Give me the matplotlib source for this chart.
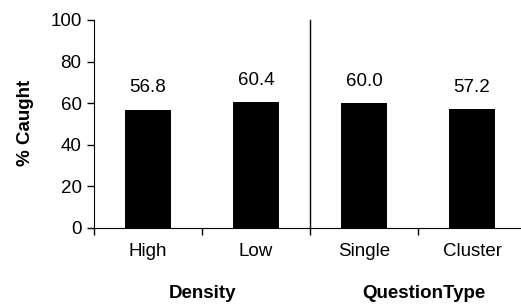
import matplotlib.pyplot as plt
import numpy as np

plt.rcParams['font.family'] = ['Liberation Sans', 'DejaVu Sans']

categories = ['High', 'Low', 'Single', 'Cluster']
values = [56.8, 60.4, 60.0, 57.2]
groups = ['Density', 'QuestionType']
yticks = [0, 20, 40, 60, 80, 100]

fig = plt.figure(figsize=(5.21, 3.07), dpi=100)
ax = fig.add_axes([94/521, 79/307, 432/521, 208/307])

x = np.arange(len(categories))
ax.bar(x, values, width=0.42, color='black')

for xi, v in zip(x, values):
    ax.annotate('%.1f' % v, (xi, v), xytext=(0, 22), textcoords='offset pixels',
                ha='center', va='center', fontsize=13.5)

ax.set_xlim(-0.5, 3.5)
ax.set_ylim(0, 100)
ax.set_yticks(yticks)
ax.tick_params(axis='y', direction='out', length=5, width=1, labelsize=13.5, pad=4)

# boundary ticks, labels centered on bars
ax.set_xticks([-0.5, 0.5, 1.5, 2.5, 3.5])
ax.set_xticklabels([])
ax.tick_params(axis='x', which='major', direction='out', length=5, width=1)
ax.set_xticks(x, minor=True)
ax.set_xticklabels(categories, minor=True)
ax.tick_params(axis='x', which='minor', length=0, labelsize=13.5, pad=11)

ax.spines['top'].set_visible(False)
ax.spines['right'].set_visible(False)

# separator between the two groups
ax.plot([1.5, 1.5], [0, 100], color='black', lw=1, clip_on=False)

ax.text(0.5, -0.315, groups[0], transform=ax.get_xaxis_transform(),
        ha='center', va='center', fontsize=13.5, fontweight='bold')
ax.text(2.55, -0.315, groups[1], transform=ax.get_xaxis_transform(),
        ha='center', va='center', fontsize=13.5, fontweight='bold')

fig.text(25/521, 1 - 123/307, '% Caught', rotation=90, ha='center', va='center',
         fontsize=13.5, fontweight='bold')

fig.savefig('out.png', dpi=100)
